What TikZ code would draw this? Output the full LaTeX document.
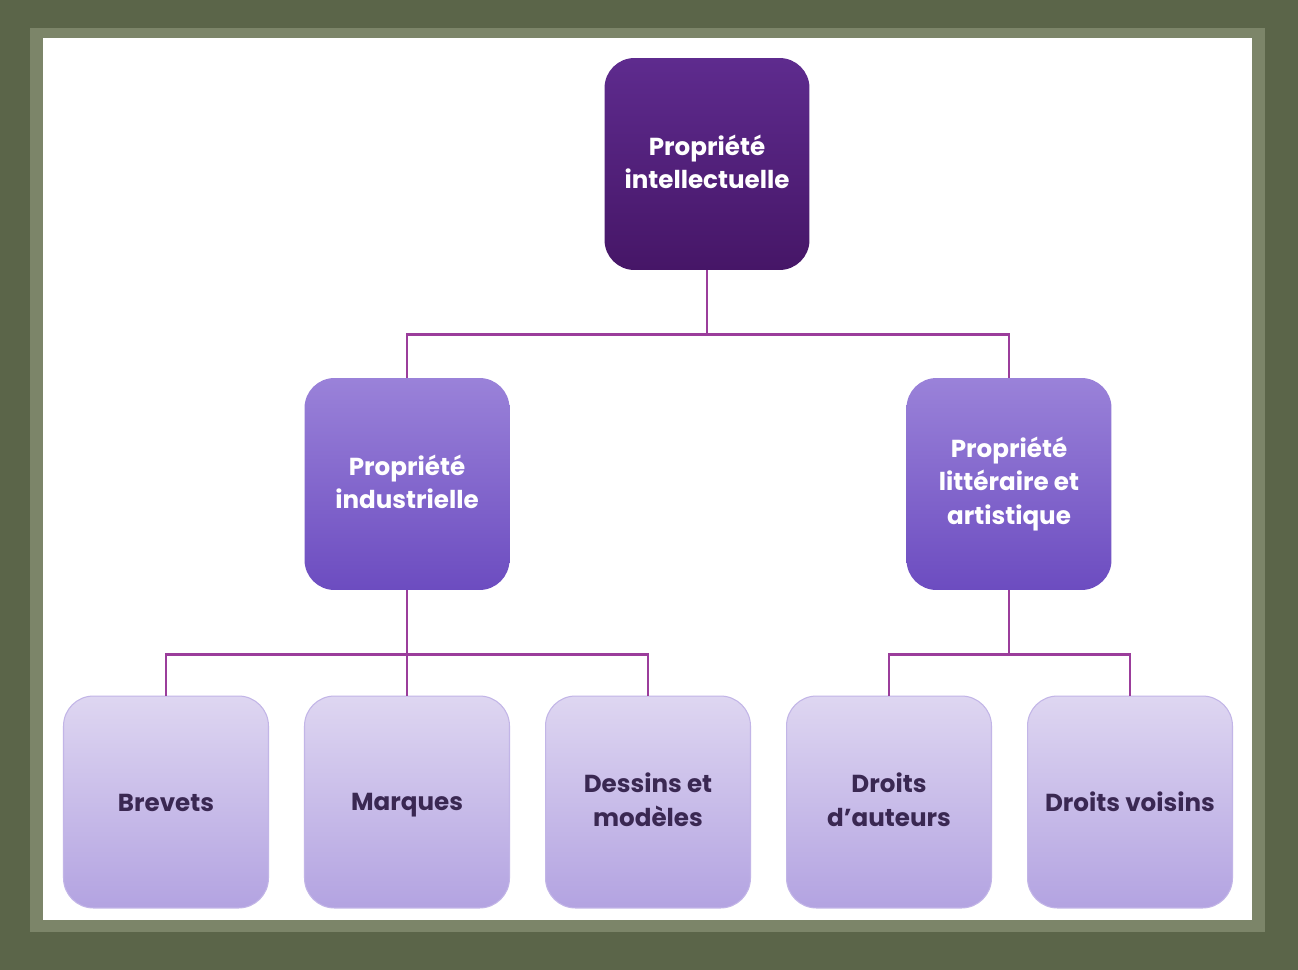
\documentclass[tikz,border=0pt]{standalone}
\usepackage{fontspec}
\setmainfont{Poppins}
\definecolor{frameolive}{HTML}{5B6549}
\definecolor{framelight}{HTML}{7C8569}
\definecolor{linkpurple}{HTML}{9B3D9B}
\definecolor{topdark}{HTML}{5E2B8E}
\definecolor{topdeep}{HTML}{461667}
\definecolor{midtop}{HTML}{9A82D9}
\definecolor{midbot}{HTML}{6C4CC0}
\definecolor{lowtop}{HTML}{DED6F1}
\definecolor{lowbot}{HTML}{B3A3E1}
\definecolor{lowtext}{HTML}{3A2852}
\newcommand{\boxstrut}{\rule[-0.2em]{0pt}{1.15em}}
\begin{document}
\begin{tikzpicture}[
  x=0.02cm,y=-0.02cm,
  box/.style={rounded corners=0.6cm, align=center, minimum width=4.1cm, minimum height=4.24cm, font=\bfseries\fontsize{14}{19}\selectfont, inner sep=0pt, execute at begin node=\boxstrut, execute at end node=\boxstrut},
  rootbox/.style={box, top color=topdark, bottom color=topdeep, text=white},
  midbox/.style={box, top color=midtop, bottom color=midbot, text=white},
  leafbox/.style={box, top color=lowtop, bottom color=lowbot, text=lowtext, draw=lowbot!80!white, line width=0.6pt},
  link/.style={draw=linkpurple, line width=1.4pt}
]
% background frame
\useasboundingbox (0,0) rectangle (1298,970);
\fill[frameolive] (0,0) rectangle (1298,970);
\fill[framelight] (30,28) rectangle (1265,932);
\fill[white] (43,38) rectangle (1252,920);

% tree
\node[rootbox] (root) at (707,164) {Propriété\\intellectuelle};
\node[midbox] (ind) at (407,484) {Propriété\\industrielle};
\node[midbox] (lit) at (1009,484) {Propriété\\littéraire et\\artistique};

\node[leafbox] (brev) at (166,802) {Brevets};
\node[leafbox] (marq) at (407,802) {Marques};
\node[leafbox] (dess) at (648,802) {Dessins et\\modèles};
\node[leafbox] (auteur) at (889,802) {Droits\\d’auteurs};
\node[leafbox] (voisin) at (1130,802) {Droits voisins};

% connectors
\draw[link] (root.south) -- ++(0,64) coordinate (bus1);
\draw[link] (bus1) -| (ind.north);
\draw[link] (bus1) -| (lit.north);

\draw[link] (ind.south) -- ++(0,64) coordinate (bus2);
\draw[link] (bus2) -| (brev.north);
\draw[link] (bus2) -- (marq.north);
\draw[link] (bus2) -| (dess.north);

\draw[link] (lit.south) -- ++(0,64) coordinate (bus3);
\draw[link] (bus3) -| (auteur.north);
\draw[link] (bus3) -| (voisin.north);
\end{tikzpicture}
\end{document}
